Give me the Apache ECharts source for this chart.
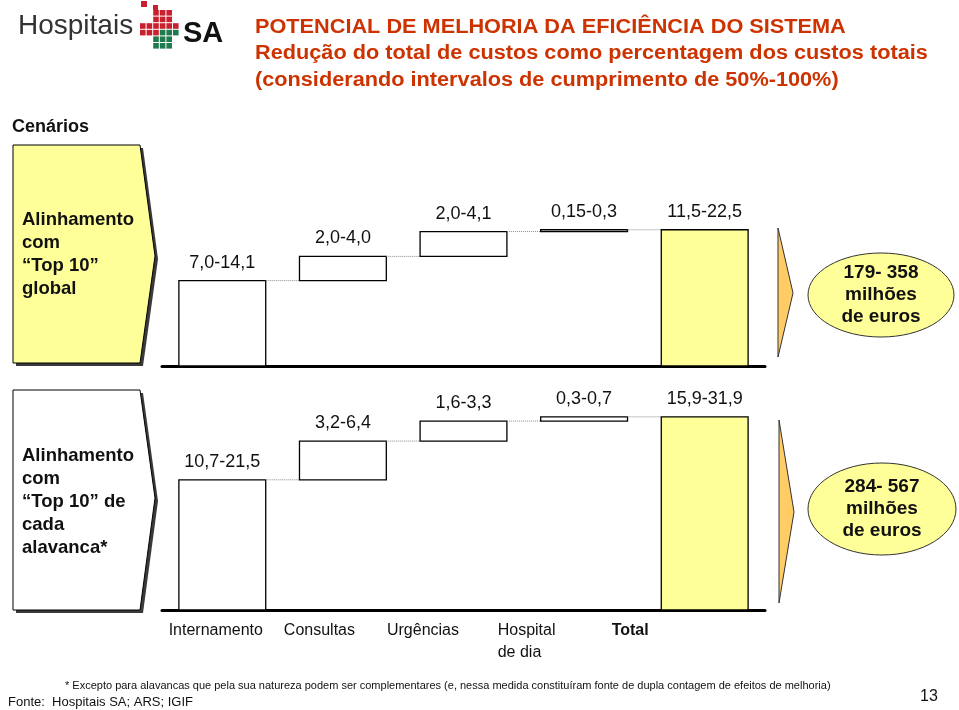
<!DOCTYPE html>
<html><head><meta charset="utf-8">
<script src="https://cdn.jsdelivr.net/npm/echarts@6/dist/echarts.min.js"></script>
<style>html,body{margin:0;padding:0;background:#fff}#c{width:959px;height:710px}</style>
</head><body><div id="c"></div>
<script>
// ---- data ----
const categories = ['Internamento', 'Consultas', 'Urgências', 'Hospital\nde dia', 'Total'];
const topLow  = [7.0, 2.0, 2.0, 0.15, 11.5];
const topHigh = [14.1, 4.0, 4.1, 0.3, 22.5];
const botLow  = [10.7, 3.2, 1.6, 0.3, 15.9];
const botHigh = [21.5, 6.4, 3.3, 0.7, 31.9];
const scenarioNames = ['Alinhamento\ncom\n“Top 10”\nglobal', 'Alinhamento\ncom\n“Top 10” de\ncada\nalavanca*'];
const totalsEuros = ['179- 358\nmilhões\nde euros', '284- 567\nmilhões\nde euros'];
const titleLines = ['POTENCIAL DE MELHORIA DA EFICIÊNCIA DO SISTEMA',
  'Redução do total de custos como percentagem dos custos totais',
  '(considerando intervalos de cumprimento de 50%-100%)'];

const FONT = 'Liberation Sans, Arial, sans-serif';
function fmt(v) {
  const s = Math.abs(v * 10 - Math.round(v * 10)) < 1e-9 ? v.toFixed(1) : String(v);
  return s.replace('.', ',');
}
function buildData(low, high) {
  const n = high.length; let cum = 0; const out = [];
  for (let i = 0; i < n; i++) {
    const isTotal = i === n - 1;
    const base = isTotal ? 0 : cum;
    out.push([i, base, high[i], low[i]]);
    if (!isTotal) cum += high[i];
  }
  return out;
}
function renderItem(params, api) {
  const i = api.value(0), base = api.value(1), h = api.value(2), lo = api.value(3);
  const n = categories.length;
  const isTotal = i === n - 1;
  const p0 = api.coord([i, base]);
  const p1 = api.coord([i, base + h]);
  const bw = api.size([1, 0])[0] * 0.72;
  const x = p0[0] - bw / 2;
  const children = [{
    type: 'rect',
    shape: { x: x, y: p1[1], width: bw, height: p0[1] - p1[1] },
    style: { fill: isTotal ? '#FFFF99' : '#ffffff', stroke: '#000', lineWidth: 1.3 }
  }];
  if (!isTotal) {
    const nx = api.coord([i + 1, base + h]);
    children.push({
      type: 'line',
      shape: { x1: x + bw, y1: p1[1], x2: nx[0] - bw / 2, y2: p1[1] },
      style: { stroke: '#8a8a8a', lineWidth: 1, lineDash: [1, 1] }
    });
  }
  children.push({
    type: 'text',
    style: {
      text: fmt(lo) + '-' + fmt(h), x: p0[0], y: p1[1] - 9,
      align: 'center', verticalAlign: 'bottom',
      font: '18px ' + FONT, fill: '#111'
    }
  });
  return { type: 'group', children: children };
}

const Y_MAX = 36;
const GRID_H = 218;
const grids = [
  { left: 162, width: 603, top: 366 - GRID_H, height: GRID_H },
  { left: 162, width: 603, top: 610 - GRID_H, height: GRID_H },
  { left: 164, width: 518, top: 610 - GRID_H, height: GRID_H }
];
function chartXAxis(gi) {
  return {
    type: 'category', gridIndex: gi, data: categories, boundaryGap: true,
    axisLine: { show: true, lineStyle: { color: '#000', width: 3 } },
    axisTick: { show: false }, axisLabel: { show: false }, splitLine: { show: false }
  };
}
const labelAxis = {
  type: 'category', gridIndex: 2, boundaryGap: true, data: categories,
  axisLine: { show: false }, axisTick: { show: false }, splitLine: { show: false },
  axisLabel: {
    show: true, interval: 0, margin: 10, fontSize: 16, fontFamily: FONT, color: '#111', lineHeight: 22,
    formatter: function (v, idx) {
      const tag = idx === categories.length - 1 ? 'b' : 'a';
      return v.split('\n').map(l => '{' + tag + '|' + l + '}').join('\n');
    },
    rich: {
      a: { align: 'left', fontSize: 16, fontFamily: FONT, color: '#111', lineHeight: 22 },
      b: { align: 'left', fontSize: 16, fontFamily: FONT, color: '#111', fontWeight: 'bold', lineHeight: 22 }
    }
  }
};
const yAxes = [0, 1, 2].map(gi => ({ type: 'value', gridIndex: gi, min: 0, max: Y_MAX, show: false }));

// ---- decorative graphics (slide frame) ----
const graphics = [];
// logo
graphics.push({ type: 'text', left: 18, top: 12, style: { text: 'Hospitais', font: '28px ' + FONT, fill: '#333' } });
const pitch = 6.6, s = 5.6, ox = 140, oy = 10;
const cross = [
  [0, [2, 3, 4]], [1, [2, 3, 4]], [2, [0, 1, 2, 3, 4, 5]], [3, [0, 1, 2, 3, 4, 5]],
  [4, [2, 3, 4]], [5, [2, 3, 4]]
];
cross.forEach(([r, cols]) => cols.forEach(c => {
  const green = r >= 4 || (r === 3 && c >= 3);
  graphics.push({ type: 'rect', shape: { x: ox + c * pitch, y: oy + r * pitch, width: s, height: s },
    style: { fill: green ? '#1f7a4d' : '#c8202e' } });
}));
graphics.push({ type: 'rect', shape: { x: 141, y: 1, width: 6, height: 6 }, style: { fill: '#c8202e' } });
graphics.push({ type: 'rect', shape: { x: 153, y: 5, width: 5, height: 5 }, style: { fill: '#c8202e' } });
graphics.push({ type: 'text', left: 183, top: 19, style: { text: 'SA', font: 'bold 29px ' + FONT, fill: '#111' } });
// title
titleLines.forEach((t, k) => graphics.push({ type: 'text', x: 255, y: 27 + k * 26.5, scaleX: 1.085,
  style: { text: t, font: 'bold 20px ' + FONT, fill: '#CC3300', verticalAlign: 'middle' } }));
graphics.push({ type: 'text', x: 12, y: 127, style: { text: 'Cenários', font: 'bold 18px ' + FONT, fill: '#111', verticalAlign: 'middle' } });
// scenario pentagons
const pent = [
  { t: 145, b: 363, fill: '#FFFF99' },
  { t: 390, b: 610, fill: '#ffffff' }
];
pent.forEach((p, k) => {
  const mid = (p.t + p.b) / 2 + (k === 0 ? 2 : -2);
  const pts = [[13, p.t], [140, p.t], [155, mid], [140, p.b], [13, p.b]];
  graphics.push({ type: 'polygon', shape: { points: pts.map(q => [q[0] + 3, q[1] + 3]) }, style: { fill: '#3a3a3a' } });
  graphics.push({ type: 'polygon', shape: { points: pts }, style: { fill: p.fill, stroke: '#000', lineWidth: 1 } });
  graphics.push({ type: 'text', x: 22, y: (p.t + p.b) / 2 + (k === 0 ? 0 : 2),
    style: { text: scenarioNames[k], font: 'bold 18.5px ' + FONT, lineHeight: 23, fill: '#111', verticalAlign: 'middle' } });
});
// arrows and ellipses
const arr = [{ t: 228, m: 293, b: 357, x: 778 }, { t: 420, m: 512, b: 603, x: 779 }];
arr.forEach(a => graphics.push({ type: 'polygon', shape: { points: [[a.x, a.t], [a.x + 15, a.m], [a.x, a.b]] },
  style: { fill: '#FFCC66', stroke: '#333', lineWidth: 1 } }));
const ell = [{ cx: 881, cy: 295, rx: 73, ry: 42 }, { cx: 882, cy: 509, rx: 74, ry: 46 }];
ell.forEach((e, k) => {
  graphics.push({ type: 'ellipse', shape: { cx: e.cx, cy: e.cy, rx: e.rx, ry: e.ry },
    style: { fill: '#FFFF99', stroke: '#333', lineWidth: 1 } });
  graphics.push({ type: 'text', x: e.cx, y: e.cy,
    style: { text: totalsEuros[k], font: 'bold 19px ' + FONT, lineHeight: 22, fill: '#111', align: 'center', verticalAlign: 'middle' } });
});
// footnotes
graphics.push({ type: 'text', x: 65, y: 686, style: { text: '* Excepto para alavancas que pela sua natureza podem ser complementares (e, nessa medida constituíram fonte de dupla contagem de efeitos de melhoria)',
  font: '11px ' + FONT, fill: '#111', verticalAlign: 'middle' } });
graphics.push({ type: 'text', x: 8, y: 702, style: { text: 'Fonte:  Hospitais SA; ARS; IGIF',
  font: '13px ' + FONT, fill: '#111', verticalAlign: 'middle' } });
graphics.push({ type: 'text', x: 920, y: 697, style: { text: '13', font: '16px ' + FONT, fill: '#111', verticalAlign: 'middle' } });

const chart = echarts.init(document.getElementById('c'), null, { renderer: 'canvas' });
chart.setOption({
  animation: false,
  backgroundColor: '#ffffff',
  grid: grids,
  xAxis: [chartXAxis(0), chartXAxis(1), labelAxis],
  yAxis: yAxes,
  series: [
    { type: 'custom', xAxisIndex: 0, yAxisIndex: 0, renderItem: renderItem, data: buildData(topLow, topHigh), z: 3 },
    { type: 'custom', xAxisIndex: 1, yAxisIndex: 1, renderItem: renderItem, data: buildData(botLow, botHigh), z: 3 }
  ],
  graphic: graphics
});
</script>
</body></html>
